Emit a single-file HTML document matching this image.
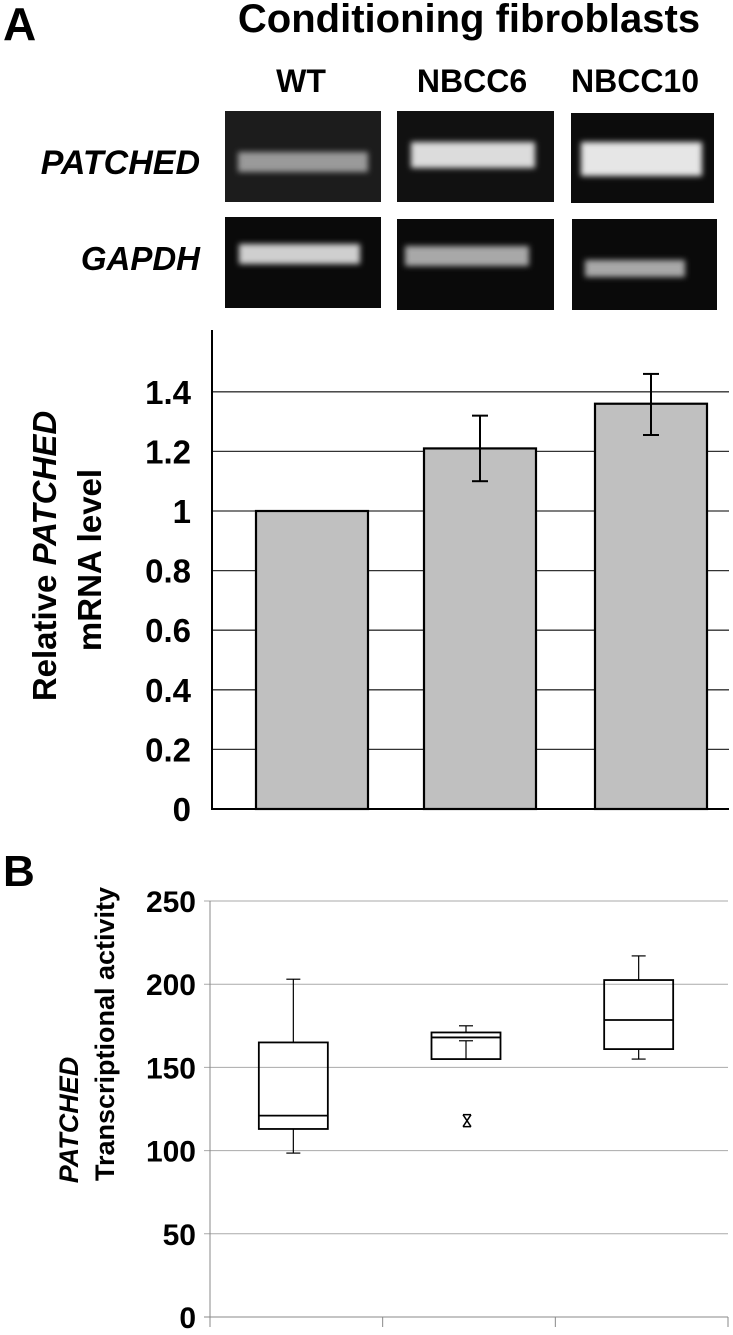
<!DOCTYPE html>
<html><head><meta charset="utf-8"><style>
html,body{margin:0;padding:0;background:#fff;}
body{width:733px;height:1330px;overflow:hidden;font-family:"Liberation Sans",Arial,sans-serif;}
svg text{font-family:"Liberation Sans",sans-serif;font-weight:bold;}
</style></head><body>
<svg id="fig" width="733" height="1330" xmlns="http://www.w3.org/2000/svg">
<defs>
<filter id="blur" x="-20%" y="-50%" width="140%" height="200%"><feGaussianBlur stdDeviation="3"/></filter>
</defs>
<text x="3" y="40" font-size="46">A</text>
<text x="469" y="32" font-size="40" text-anchor="middle">Conditioning fibroblasts</text>
<text x="301" y="92" font-size="32" text-anchor="middle">WT</text>
<text x="472" y="92" font-size="32" text-anchor="middle">NBCC6</text>
<text x="635" y="92" font-size="32" text-anchor="middle">NBCC10</text>
<text x="200" y="174" font-size="34" text-anchor="end" font-style="italic">PATCHED</text>
<text x="200" y="270" font-size="33" text-anchor="end" font-style="italic">GAPDH</text>
<g>
<rect x="225" y="111" width="156" height="91" fill="#1c1c1c"/>
<rect x="238" y="152" width="130" height="20" fill="#9a9a9a" filter="url(#blur)"/>
<rect x="397" y="111" width="157" height="91" fill="#111"/>
<rect x="411" y="142" width="124" height="26" fill="#dcdcdc" filter="url(#blur)"/>
<rect x="571" y="113" width="143" height="90" fill="#0c0c0c"/>
<rect x="581" y="142" width="121" height="34" fill="#e6e6e6" filter="url(#blur)"/>
<rect x="225" y="217" width="156" height="91" fill="#0a0a0a"/>
<rect x="239" y="244" width="121" height="20" fill="#cfcfcf" filter="url(#blur)"/>
<rect x="397" y="219" width="157" height="91" fill="#0a0a0a"/>
<rect x="405" y="246" width="124" height="20" fill="#a8a8a8" filter="url(#blur)"/>
<rect x="572" y="219" width="145" height="91" fill="#0a0a0a"/>
<rect x="585" y="260" width="100" height="17" fill="#a8a8a8" filter="url(#blur)"/>
</g>
<g id="barChart"></g>
<text x="3" y="886" font-size="44">B</text>
<g id="boxChart"></g>
</svg>
<script>
const barCategories = ["WT", "NBCC6", "NBCC10"];
const barValues = [1.0, 1.21, 1.36];
const barErrLow = [null, 1.10, 1.255];
const barErrHigh = [null, 1.32, 1.46];
const barTicks = ["0", "0.2", "0.4", "0.6", "0.8", "1", "1.2", "1.4"];
const barTickValues = [0, 0.2, 0.4, 0.6, 0.8, 1.0, 1.2, 1.4];

const boxCategories = ["WT", "NBCC6", "NBCC10"];
const boxQ1 = [113, 155, 161];
const boxMedian = [121, 168, 178.5];
const boxQ3 = [165, 171, 202.5];
const boxWhiskerLow = [98.5, 166, 155];
const boxWhiskerHigh = [203, 175, 217];
const boxOutliers = [[], [118], []];
const boxTicks = ["0", "50", "100", "150", "200", "250"];
const boxTickValues = [0, 50, 100, 150, 200, 250];

const NS = "http://www.w3.org/2000/svg";
function mk(parent, tag, attrs, text) {
  const e = document.createElementNS(NS, tag);
  for (const k in attrs) e.setAttribute(k, attrs[k]);
  if (text !== undefined) e.textContent = text;
  parent.appendChild(e);
  return e;
}

// ---- Bar chart ----
(function () {
  const g = document.getElementById("barChart");
  const x0 = 212, x1 = 729, y0 = 809, yPer = 298;
  const yS = v => y0 - v * yPer;
  const bandStart = 228, band = 168, bw = 112;
  const xC = i => bandStart + band * i + band / 2 + (i === 2 ? 3 : 0);
  barTickValues.forEach((v, i) => {
    if (v > 0) {
      const l = mk(g, "line", {x1: x0, x2: x1, y1: yS(v), y2: yS(v), stroke: "#333", "stroke-width": 1.3});
      
      
    }
    const t = mk(g, "text", {x: 191, y: yS(v) + 12, "font-size": 33, "text-anchor": "end"}, barTicks[i]);
    
    
  });
  const ax = mk(g, "line", {x1: x0, x2: x0, y1: 330, y2: y0 + 1, stroke: "#000", "stroke-width": 2});
  
  
  const bx = mk(g, "line", {x1: x0, x2: x1, y1: y0, y2: y0, stroke: "#000", "stroke-width": 2});
  
  
  barValues.forEach((v, i) => {
    const c = xC(i);
    const r = mk(g, "rect", {x: c - bw / 2, y: yS(v), width: bw, height: y0 - yS(v), fill: "#c0c0c0", stroke: "#000", "stroke-width": 2.2});
    
    
    if (barErrLow[i] !== null) {
      const eg = mk(g, "g", {stroke: "#000", "stroke-width": 2});
      
      
      mk(eg, "line", {x1: c, x2: c, y1: yS(barErrLow[i]), y2: yS(barErrHigh[i])});
      mk(eg, "line", {x1: c - 8, x2: c + 8, y1: yS(barErrLow[i]), y2: yS(barErrLow[i])});
      mk(eg, "line", {x1: c - 8, x2: c + 8, y1: yS(barErrHigh[i]), y2: yS(barErrHigh[i])});
    }
  });
  const tt = mk(g, "text", {transform: "translate(56,556) rotate(-90)", "font-size": 33, "text-anchor": "middle"});
  
  
  mk(tt, "tspan", {}, "Relative ");
  mk(tt, "tspan", {"font-style": "italic"}, "PATCHED");
  const tt2 = mk(g, "text", {transform: "translate(101,560) rotate(-90)", "font-size": 33, "text-anchor": "middle"}, "mRNA level");
  
  
})();

// ---- Box chart ----
(function () {
  const g = document.getElementById("boxChart");
  const x0 = 210, x1 = 728, y0 = 1317, yPer = 1.664;
  const yS = v => y0 - v * yPer;
  const band = (x1 - x0) / 3, bw = 69;
  const xC = i => x0 + band * i + band / 2 - 3;
  boxTickValues.forEach((v, i) => {
    const l = mk(g, "line", {x1: x0 - 6, x2: x1, y1: yS(v), y2: yS(v), stroke: v === 0 ? "#888" : "#aaa", "stroke-width": 1});
    
    
    const t = mk(g, "text", {x: 196, y: yS(v) + 11, "font-size": 30, "text-anchor": "end"}, boxTicks[i]);
    
    
  });
  const ax = mk(g, "line", {x1: x0, x2: x0, y1: yS(250), y2: y0 + 10, stroke: "#888", "stroke-width": 1});
  
  
  for (let k = 1; k <= 3; k++) {
    const tk = mk(g, "line", {x1: x0 + band * k, x2: x0 + band * k, y1: y0, y2: y0 + 10, stroke: "#888", "stroke-width": 1});
    
    
  }
  boxCategories.forEach((cat, i) => {
    const c = xC(i);
    const bg = mk(g, "g", {stroke: "#000", fill: "none"});
    
    
    mk(bg, "line", {x1: c, x2: c, y1: yS(boxQ3[i]), y2: yS(boxWhiskerHigh[i]), "stroke-width": 1.2});
    mk(bg, "line", {x1: c - 7, x2: c + 7, y1: yS(boxWhiskerHigh[i]), y2: yS(boxWhiskerHigh[i]), "stroke-width": 1.2});
    mk(bg, "line", {x1: c, x2: c, y1: yS(boxQ1[i]), y2: yS(boxWhiskerLow[i]), "stroke-width": 1.2});
    mk(bg, "line", {x1: c - 7, x2: c + 7, y1: yS(boxWhiskerLow[i]), y2: yS(boxWhiskerLow[i]), "stroke-width": 1.2});
    mk(bg, "rect", {x: c - bw / 2, y: yS(boxQ3[i]), width: bw, height: yS(boxQ1[i]) - yS(boxQ3[i]), "stroke-width": 1.8});
    mk(bg, "line", {x1: c - bw / 2, x2: c + bw / 2, y1: yS(boxMedian[i]), y2: yS(boxMedian[i]), "stroke-width": 1.8});
    boxOutliers[i].forEach(o => {
      const oy = yS(o), ox = c + 1;
      const og = mk(g, "g", {stroke: "#000", "stroke-width": 1.5});
      
      
      mk(og, "line", {x1: ox - 4, x2: ox + 4, y1: oy - 6, y2: oy + 6});
      mk(og, "line", {x1: ox + 4, x2: ox - 4, y1: oy - 6, y2: oy + 6});
      mk(og, "line", {x1: ox - 4, x2: ox + 4, y1: oy - 6, y2: oy - 6});
      mk(og, "line", {x1: ox - 4, x2: ox + 4, y1: oy + 6, y2: oy + 6});
    });
  });
  const t1 = mk(g, "text", {transform: "translate(78,1120) rotate(-90)", "font-size": 27, "text-anchor": "middle", "font-style": "italic"}, "PATCHED");
  
  
  const t2 = mk(g, "text", {transform: "translate(114,1034) rotate(-90)", "font-size": 27, "text-anchor": "middle"}, "Transcriptional activity");
  
  
})();
</script>
</body></html>
